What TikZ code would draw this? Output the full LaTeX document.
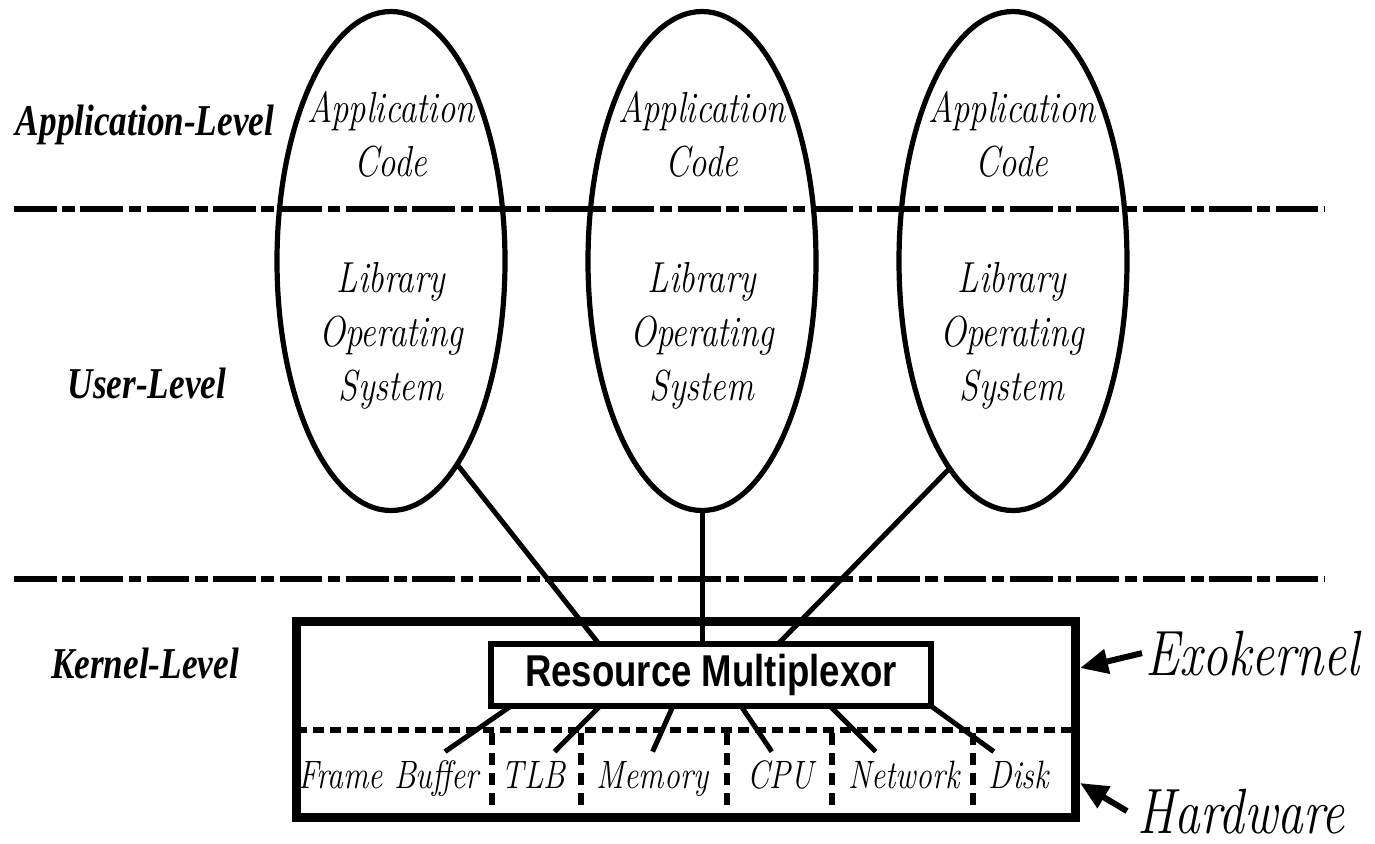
\documentclass[tikz,border=0pt]{standalone}
\usepackage{fontspec}
\usetikzlibrary{shapes.geometric,arrows.meta,calc}
\newfontfamily\lmstretch{Latin Modern Roman}[FakeStretch=0.8]
\newfontfamily\lvlfont{Liberation Serif}[FakeStretch=0.8]
\newfontfamily\rmxfont{Liberation Sans}[FakeStretch=0.82]
\begin{document}
\begin{tikzpicture}[x=0.5pt,y=-0.5pt,
  bubble/.style={ellipse,draw,line width=2.6pt,minimum width=114pt,minimum height=249.5pt,inner sep=0pt,outer sep=0pt},
  bubtext/.style={align=center,font=\lmstretch\itshape\fontsize{21.7}{27}\selectfont,inner sep=0pt},
  levellabel/.style={anchor=base,inner sep=0pt,font=\lvlfont\bfseries\itshape\fontsize{22}{24}\selectfont},
  layerline/.style={line width=3pt,dash pattern=on 21.3pt off 2.8pt on 6.3pt off 2.8pt},
  conn/.style={line width=2.5pt},
  hwlabel/.style={anchor=base,inner sep=0pt,text height=14pt,text depth=4pt,font=\lmstretch\itshape\fontsize{19.8}{22}\selectfont},
  biglabel/.style={anchor=base west,inner sep=0pt,font=\lmstretch\itshape\fontsize{32}{36}\selectfont},
  pointer/.style={line width=3pt,-{Triangle[length=14pt,width=12pt]}},
  sepline/.style={line width=2.8pt,dash pattern=on 6pt off 4pt},
  dotline/.style={line width=3pt,dash pattern=on 5.5pt off 3pt},
]
\useasboundingbox (0,0) rectangle (1375,843);

% ellipses
\node[bubble] (e1) at (391,261) {};
\node[bubble] (e2) at (702,261) {};
\node[bubble] (e3) at (1013,261) {};

\node[bubtext] (a1) at (391,134.5) {Application\\Code};
\node[bubtext] (a2) at (702,134.5) {Application\\Code};
\node[bubtext] (a3) at (1012,134.5) {Application\\Code};
\node[bubtext] (l1) at (391,335.5) {Library\\Operating\\System};
\node[bubtext] (l2) at (702,335.5) {Library\\Operating\\System};
\node[bubtext] (l3) at (1012,335.5) {Library\\Operating\\System};

% layer separators
\coordinate (L1a) at (14,209); \coordinate (L1b) at (1324,209);
\coordinate (L2a) at (14,579); \coordinate (L2b) at (1324,579);
\draw[layerline] (L1a) -- (L1b);
\draw[layerline] (L2a) -- (L2b);

% level labels
\node[levellabel] (appl) at (145,135) {Application-Level};
\node[levellabel] (userl) at (147,398) {User-Level};
\node[levellabel] (kernl) at (145,678) {Kernel-Level};

% kernel box
\node[draw,line width=4.5pt,minimum width=389.5pt,minimum height=98pt,inner sep=0pt,outer sep=0pt] (kbox) at (685.5,719) {};
\node[draw,line width=3pt,minimum width=220pt,minimum height=31pt,inner sep=0pt,outer sep=0pt,fill=white,
      font=\rmxfont\bfseries\fontsize{22.3}{24}\selectfont] (rm) at (711,675) {Resource Multiplexor};

\draw[dotline] (296,730) -- (1075,730);
\foreach \sx in {492,581,727,832,973} \draw[sepline] (\sx,733) -- (\sx,807);

% hardware labels
\node[hwlabel] (fb) at (388.5,788) {Frame Buffer};
\node[hwlabel] (tlb) at (533.6,788) {TLB};
\node[hwlabel] (mem) at (652.6,788) {Memory};
\node[hwlabel] (cpu) at (780.8,788) {CPU};
\node[hwlabel] (net) at (903.7,788) {Network};
\node[hwlabel] (disk) at (1018.8,788) {Disk};

% connectors ellipses -> multiplexor
\draw[conn] (e1.-72.5) -- ($(rm.north west)+(108,0)$);
\draw[conn] (e2.south) -- (e2.south |- rm.north);
\draw[conn] (e3.-107.5) -- ($(rm.north west)+(287,0)$);

% connectors multiplexor -> hardware
\draw[conn] ($(rm.south west)+(20,0)$) -- ($(fb.north)+(56.5,-8)$);
\draw[conn] ($(rm.south west)+(109,0)$) -- ($(tlb.north)+(21,-8)$);
\draw[conn] ($(rm.south west)+(182,0)$) -- ($(mem.north)+(0,-8)$);
\draw[conn] ($(rm.south west)+(250,0)$) -- ($(cpu.north)+(-9,-8)$);
\draw[conn] ($(rm.south west)+(339,0)$) -- ($(net.north)+(-28,-8)$);
\draw[conn] (rm.south east) -- ($(disk.north)+(-25,-8)$);

% side labels
\node[biglabel] (exo) at (1145,675) {Exokernel};
\node[biglabel] (hw) at (1137,833) {Hardware};
\coordinate (exotip) at (1080,668);
\coordinate (hwtip) at (1080,783);
\draw[pointer] ([xshift=-1.5pt]exo.west) -- (exotip);
\draw[pointer] ([xshift=-5pt]hw.west) -- (hwtip);
\end{tikzpicture}
\end{document}
